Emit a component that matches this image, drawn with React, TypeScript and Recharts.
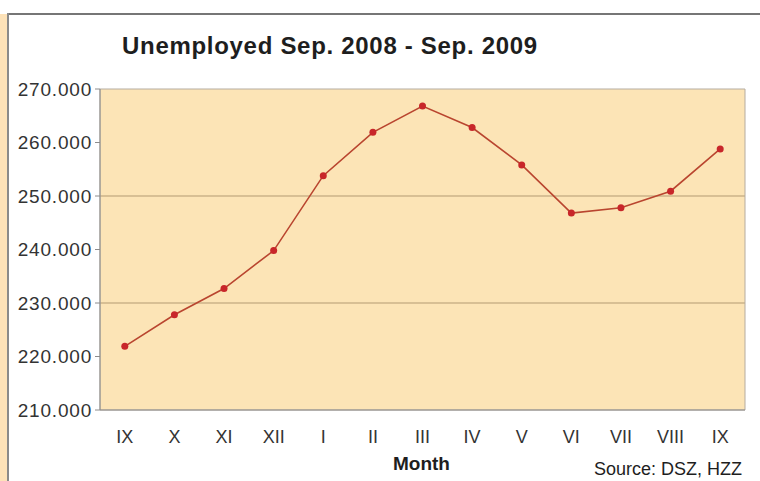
import { LineChart, Line, XAxis, YAxis, CartesianGrid, ReferenceArea } from 'recharts'

const MONTHS = ['IX', 'X', 'XI', 'XII', 'I', 'II', 'III', 'IV', 'V', 'VI', 'VII', 'VIII', 'IX']
const UNEMPLOYED = [
  221900, 227800, 232700, 239800, 253800, 261900, 266800, 262800, 255800, 246800, 247800, 250900,
  258800,
]
const Y_TICKS = [210000, 220000, 230000, 240000, 250000, 260000, 270000]
const GRID_VALUES = [230000, 250000]

const data = MONTHS.map((m, i) => ({ key: `${m}-${i}`, month: m, value: UNEMPLOYED[i] }))
const boundaryTicks = [...MONTHS.map((_, i) => i), MONTHS.length]

const FONT = '"Liberation Sans", Arial, sans-serif'

// plot runs from x=100 to x=745, so half a category is 645 / 13 / 2
const HALF_BAND = 645 / MONTHS.length / 2

const fmt = (v: number) => `${Math.round(v / 1000)}.000`

export default function App() {
  return (
    <div
      style={{
        position: 'absolute',
        left: 0,
        top: 0,
        width: 760,
        height: 481,
        background: '#ffffff',
        overflow: 'hidden',
        fontFamily: FONT,
      }}
    >
      {/* left strip and frame */}
      <div style={{ position: 'absolute', left: 0, top: 14, width: 7, height: 467, background: '#fde2b8' }} />
      <div style={{ position: 'absolute', left: 7, top: 13, width: 753, height: 2, background: '#767676' }} />
      <div style={{ position: 'absolute', left: 7, top: 13, width: 2, height: 468, background: '#8a8a8a' }} />

      <div
        style={{
          position: 'absolute',
          left: 122,
          top: 32,
          fontSize: 24,
          fontWeight: 'bold',
          letterSpacing: 0.7,
          color: '#1e1e1e',
          whiteSpace: 'nowrap',
        }}
      >
        Unemployed Sep. 2008 - Sep. 2009
      </div>

      <div style={{ position: 'absolute', left: 0, top: 0 }}>
        <LineChart width={760} height={481} data={data} margin={{ top: 89, right: 15, bottom: 20, left: 8 }}>
          <CartesianGrid
            vertical={false}
            horizontalValues={GRID_VALUES}
            stroke="#b39a72"
            fill="#fce4b6"
            strokeWidth={1}
          />
          <ReferenceArea y1={210000} y2={270000} fill="none" stroke="#b5aca0" strokeWidth={1} />
          <XAxis
            xAxisId={0}
            type="number"
            domain={[0, MONTHS.length]}
            ticks={boundaryTicks}
            tick={false}
            tickSize={5}
            height={1}
            stroke="#8c8c8c"
            allowDataOverflow
          />
          <XAxis
            xAxisId="cat"
            dataKey="key"
            tickFormatter={(_, i) => MONTHS[i]}
            interval={0}
            padding={{ left: HALF_BAND, right: HALF_BAND }}
            axisLine={false}
            tickLine={false}
            tickSize={0}
            tickMargin={19}
            height={50}
            tick={{ fill: '#333333', fontSize: 18, fontFamily: FONT }}
          />
          <YAxis
            domain={[210000, 270000]}
            ticks={Y_TICKS}
            tickFormatter={fmt}
            width={92}
            tickSize={5}
            tickMargin={3}
            stroke="#8c8c8c"
            tick={{ fill: '#333333', fontSize: 19, fontFamily: FONT, letterSpacing: 0.8 }}
          />
          <Line
            xAxisId="cat"
            dataKey="value"
            stroke="#b9452f"
            strokeWidth={1.6}
            dot={{ r: 3.5, fill: '#c8262a', stroke: 'none' }}
            isAnimationActive={false}
          />
        </LineChart>
      </div>

      <div
        style={{
          position: 'absolute',
          left: 393,
          top: 453,
          fontSize: 19,
          fontWeight: 'bold',
          color: '#1e1e1e',
        }}
      >
        Month
      </div>
      <div
        style={{
          position: 'absolute',
          left: 594,
          top: 459,
          fontSize: 18,
          lineHeight: '20px',
          color: '#1e1e1e',
          whiteSpace: 'nowrap',
        }}
      >
        Source: DSZ, HZZ
      </div>
    </div>
  )
}
